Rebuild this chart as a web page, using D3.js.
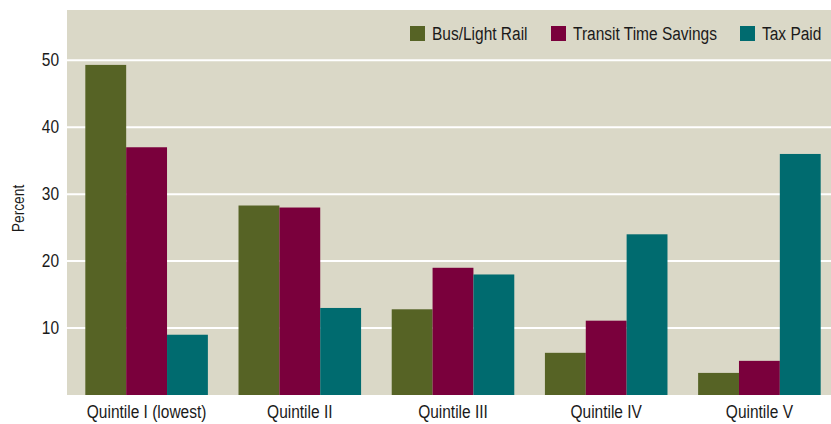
<!DOCTYPE html>
<html>
<head>
<meta charset="utf-8">
<script src="https://cdn.jsdelivr.net/npm/d3@7"></script>
<style>
  body { margin: 0; background: #fff; }
  svg text { font-family: "Liberation Sans", Arial, sans-serif; fill: #1a1a1a; }
</style>
</head>
<body>
<svg width="831" height="424"></svg>
<script>
var categories = ["Quintile I (lowest)", "Quintile II", "Quintile III", "Quintile IV", "Quintile V"];
var seriesNames = ["Bus/Light Rail", "Transit Time Savings", "Tax Paid"];
var busLightRail = [49.3, 28.3, 12.8, 6.3, 3.3];
var transitTimeSavings = [37, 28, 19, 11.1, 5.1];
var taxPaid = [9, 13, 18, 24, 36];
var yTicks = [10, 20, 30, 40, 50];
var colors = ["#566325", "#7a003c", "#006b6f"];

var svg = d3.select("svg"),
    width = +svg.attr("width"),
    height = +svg.attr("height");

var plot = { left: 67, right: 831, top: 10, bottom: 395 };

var values = [busLightRail, transitTimeSavings, taxPaid];
var rows = categories.map(function(c, i) {
  return { cat: c, vals: values.map(function(v, j) { return { s: j, v: v[i] }; }) };
});

var x = d3.scaleBand()
    .domain(categories)
    .range([70, 836])
    .paddingInner(0.2)
    .paddingOuter(0.1);

var xs = d3.scaleBand()
    .domain(d3.range(seriesNames.length))
    .range([0, x.bandwidth()]);

var y = d3.scaleLinear()
    .domain([0, 57.5])
    .range([plot.bottom, plot.top]);

// background
svg.append("rect")
  .attr("x", plot.left)
  .attr("y", plot.top)
  .attr("width", plot.right - plot.left)
  .attr("height", plot.bottom - plot.top)
  .attr("fill", "#dad8c7");

// gridlines
svg.append("g")
  .selectAll("line")
  .data(yTicks)
  .enter().append("line")
  .attr("x1", plot.left)
  .attr("x2", plot.right)
  .attr("y1", function(d) { return y(d); })
  .attr("y2", function(d) { return y(d); })
  .attr("stroke", "#fff")
  .attr("stroke-width", 2);

// bars
var group = svg.append("g")
  .selectAll("g")
  .data(rows)
  .enter().append("g")
  .attr("transform", function(d) { return "translate(" + x(d.cat) + ",0)"; });

group.selectAll("rect")
  .data(function(d) { return d.vals; })
  .enter().append("rect")
  .attr("x", function(d) { return xs(d.s); })
  .attr("width", xs.bandwidth())
  .attr("y", function(d) { return y(d.v); })
  .attr("height", function(d) { return y(0) - y(d.v); })
  .attr("fill", function(d) { return colors[d.s]; });

// y axis
var yAxis = svg.append("g")
  .attr("transform", "translate(" + plot.left + ",0)")
  .call(d3.axisLeft(y).tickValues(yTicks).tickSize(0).tickPadding(8));
yAxis.select(".domain").remove();
yAxis.selectAll("text")
  .style("font-size", "18px")
  .attr("fill", "#1a1a1a");

// x axis
var xAxis = svg.append("g")
  .attr("transform", "translate(0," + plot.bottom + ")")
  .call(d3.axisBottom(x).tickSize(0).tickPadding(10));
xAxis.select(".domain").remove();
xAxis.selectAll("text")
  .style("font-size", "18px")
  .attr("fill", "#1a1a1a");

// y label
svg.append("text")
  .attr("transform", "translate(24," + ((plot.top + plot.bottom) / 2 + 6) + ") rotate(-90)")
  .attr("text-anchor", "middle")
  .style("font-size", "16px")
  .text("Percent");

// legend
var legendX = [410, 551, 740];
var legend = svg.append("g")
  .selectAll("g")
  .data(seriesNames)
  .enter().append("g")
  .attr("transform", function(d, i) { return "translate(" + legendX[i] + ",26)"; });

legend.append("rect")
  .attr("width", 15)
  .attr("height", 15)
  .attr("fill", function(d, i) { return colors[i]; });

legend.append("text")
  .attr("x", 22)
  .attr("y", 14)
  .style("font-size", "18px")
  .text(function(d) { return d; });

// squeeze all text to a condensed look
svg.selectAll("text").each(function() {
  var len = this.getComputedTextLength();
  d3.select(this)
    .attr("textLength", len * 0.86)
    .attr("lengthAdjust", "spacingAndGlyphs");
});
</script>
</body>
</html>
